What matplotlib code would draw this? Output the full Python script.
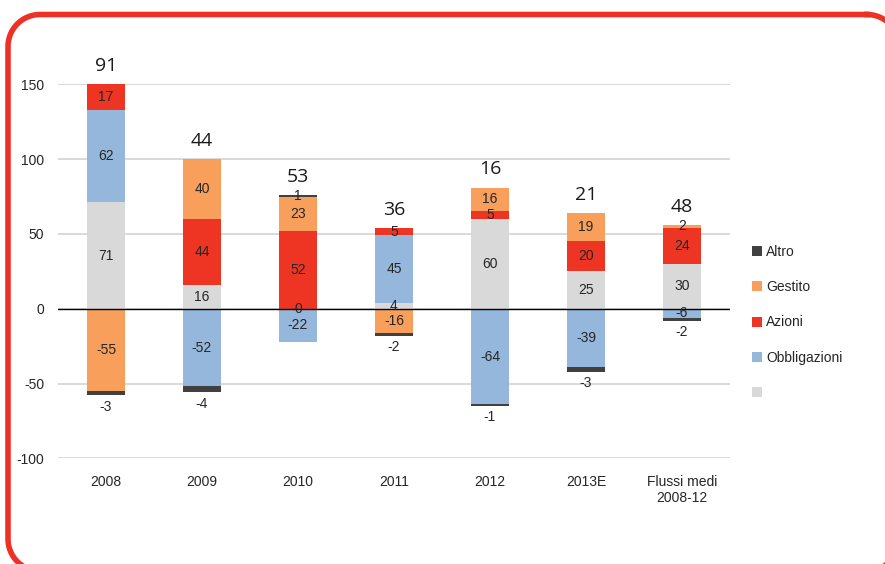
import matplotlib
matplotlib.use("Agg")
import matplotlib.pyplot as plt
import numpy as np
from matplotlib.patches import Patch

categories = ["2008", "2009", "2010", "2011", "2012", "2013E", "Flussi medi\n2008-12"]
liquidita = [71, 16, 0, 4, 60, 25, 30]
obbligazioni = [62, -52, -22, 45, -64, -39, -6]
azioni = [17, 44, 52, 5, 5, 20, 24]
gestito = [-55, 40, 23, -16, 16, 19, 2]
altro = [-3, -4, 1, -2, -1, -3, -2]
totals = [91, 44, 53, 36, 16, 21, 48]

series = [
    ("", liquidita, "#D9D9D9"),
    ("Obbligazioni", obbligazioni, "#95B7DB"),
    ("Azioni", azioni, "#EE3524"),
    ("Gestito", gestito, "#F79F5B"),
    ("Altro", altro, "#404040"),
]

plt.rcParams['font.family'] = ['Liberation Sans', 'DejaVu Sans']
plt.rcParams['axes.unicode_minus'] = False

W, H = 885, 564
fig = plt.figure(figsize=(W / 100, H / 100), dpi=100)

# frame layer in pixel units (origin top-left)
bg = fig.add_axes([0, 0, 1, 1], zorder=-1)
bg.set_xlim(0, W)
bg.set_ylim(H, 0)
bg.axis("off")
L, T, R, B, r = 8, 14.5, 899, 571, 32
pts = []
for cx, cy, a0 in [(R - r, T + r, -90), (R - r, B - r, 0), (L + r, B - r, 90), (L + r, T + r, 180)]:
    ang = np.radians(np.linspace(a0, a0 + 90, 20))
    pts += list(zip(cx + r * np.cos(ang), cy + r * np.sin(ang)))
pts.append(pts[0])
px, py = zip(*pts)
bg.plot(px, py, color="#EE3124", linewidth=4, clip_on=False, solid_joinstyle="round")

ax = fig.add_axes([58 / W, 1 - 458.3 / H, 672 / W, (458.3 - 84.3) / H])
ax.patch.set_alpha(0)

x = np.arange(len(categories))
bw = 0.4
pos_base = np.zeros(len(categories))
neg_base = np.zeros(len(categories))
label_col = "#262626"

for name, vals, col in series:
    vals = np.array(vals, dtype=float)
    bottoms = np.where(vals >= 0, pos_base, neg_base)
    ax.bar(x, vals, bw, bottom=bottoms, color=col, zorder=3, linewidth=0)
    for i, v in enumerate(vals):
        if name == "Altro" and v < 0:
            ax.annotate(f"{int(v)}", (x[i], bottoms[i] + v), xytext=(0, -3),
                        textcoords="offset points", ha="center", va="top",
                        fontsize=10, color=label_col, zorder=5)
        else:
            ax.text(x[i], bottoms[i] + v / 2, f"{int(v)}", ha="center", va="center",
                    fontsize=10, color=label_col, zorder=5)
    pos_base = pos_base + np.where(vals >= 0, vals, 0)
    neg_base = neg_base + np.where(vals < 0, vals, 0)

for i, t in enumerate(totals):
    ax.annotate(f"{t}", (x[i], pos_base[i]), xytext=(0, 13), textcoords="offset points",
                ha="center", va="center", fontsize=14, color="#1a1a1a",
                family="Open Sans", annotation_clip=False)

ax.set_ylim(-100, 150)
ax.set_xlim(-0.5, len(categories) - 0.5)
ax.set_yticks([-100, -50, 0, 50, 100, 150])
ax.yaxis.grid(True, color="#D0D0D0", linewidth=1.1, zorder=0)
ax.set_axisbelow(True)
ax.axhline(0, color="black", linewidth=1.0, zorder=4)
for s in ax.spines.values():
    s.set_visible(False)
ax.tick_params(axis="both", length=0, labelsize=10, colors="#262626")
ax.tick_params(axis="y", pad=10)
ax.tick_params(axis="x", pad=12)
ax.set_xticks(x)
ax.set_xticklabels(categories)

handles = [Patch(facecolor=c, edgecolor="none") for _, _, c in series[::-1]]
labels = [n for n, _, _ in series[::-1]]
fig.legend(handles, labels, loc="upper left", bbox_to_anchor=(752 / W, 1 - 245 / H),
           frameon=False, fontsize=10, handlelength=0.75, handleheight=0.75,
           handletextpad=0.25, labelspacing=1.53, borderpad=0, borderaxespad=0,
           labelcolor="#262626")

fig.savefig("out.png", dpi=100)
